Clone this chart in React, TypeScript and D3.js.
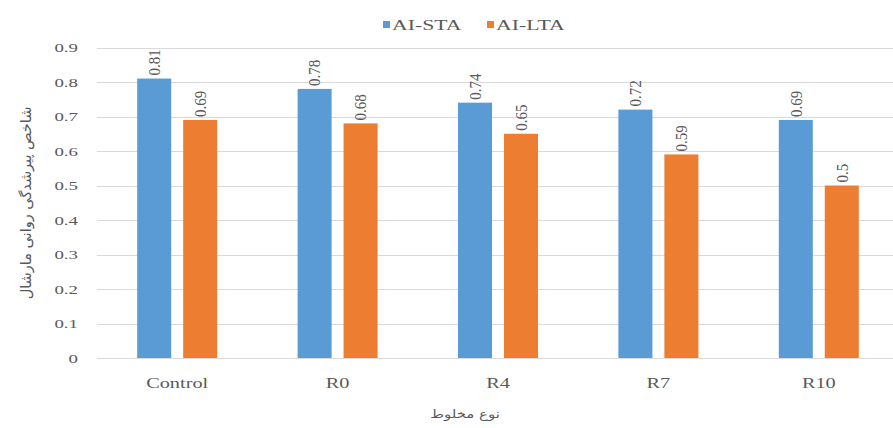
import React from "react";
import * as d3 from "d3";

// Mixture types on the x axis
const categories = ["Control", "R0", "R4", "R7", "R10"];
// Aging index series
const seriesNames = ["AI-STA", "AI-LTA"];
const staValues = [0.81, 0.78, 0.74, 0.72, 0.69];
const ltaValues = [0.69, 0.68, 0.65, 0.59, 0.5];
const seriesColors = ["#5B9BD5", "#ED7D31"];
const yTicks = [0, 0.1, 0.2, 0.3, 0.4, 0.5, 0.6, 0.7, 0.8, 0.9];
const yTitle = "شاخص پیرشدگی روانی مارشال";
const xTitle = "نوع مخلوط";

const W = 893;
const H = 428;
const plot = { left: 97, right: 899, top: 47.5, bottom: 358 };
const SX = 1.45; // horizontal stretch of the lettering
const serif = "'Liberation Serif', 'Times New Roman', serif";

export default function App() {
  const x = d3.scaleBand<string>().domain(categories).range([plot.left, plot.right]);
  const inner = d3.scaleBand<string>().domain(seriesNames).range([-40, 40]).paddingInner(0.26);
  const y = d3.scaleLinear().domain([0, 0.9]).range([plot.bottom, plot.top]);
  const series = [staValues, ltaValues];

  return (
    <svg width={W} height={H} style={{ display: "block", background: "#fff" }}>
      <style>{"body{margin:0}"}</style>
      {/* gridlines */}
      {yTicks.map((t) => (
        <line key={t} x1={plot.left} x2={plot.right} y1={Math.round(y(t)) + 0.5} y2={Math.round(y(t)) + 0.5}
          stroke="#d9d9d9" strokeWidth={1} />
      ))}
      {/* y tick labels */}
      {yTicks.map((t) => (
        <text key={"yl" + t} transform={`translate(78,${y(t) + 4.5}) scale(${SX},1)`} textAnchor="end"
          fontFamily={serif} fontSize={13} fill="#595959">{d3.format("")(t)}</text>
      ))}
      {/* bars and value labels */}
      {series.map((vals, si) => (
        <g key={seriesNames[si]}>
          {vals.map((v, ci) => {
            const cx = x(categories[ci])! + x.bandwidth() / 2 + inner(seriesNames[si])!;
            const bw = inner.bandwidth();
            return (
              <g key={ci}>
                <rect x={cx} y={y(v)} width={bw} height={plot.bottom - y(v)} fill={seriesColors[si]} />
                <text transform={`translate(${cx + bw / 2},${y(v) - 3}) scale(1.1,1) rotate(-90)`}
                  dominantBaseline="central" fontFamily={serif} fontSize={15} fill="#595959">{String(v)}</text>
              </g>
            );
          })}
        </g>
      ))}
      {/* x tick labels */}
      {categories.map((c) => (
        <text key={c} transform={`translate(${x(c)! + x.bandwidth() / 2},388) scale(${SX},1)`} textAnchor="middle"
          fontFamily={serif} fontSize={14} fill="#595959">{c}</text>
      ))}
      {/* axis titles */}
      <text transform={`translate(465,418) scale(1.3,1)`} textAnchor="middle"
        fontFamily="'DejaVu Sans', sans-serif" fontSize={11.5} fill="#595959">{xTitle}</text>
      <text transform={`translate(26,203) rotate(-90)`} textAnchor="middle" dominantBaseline="central"
        fontFamily="'DejaVu Sans', sans-serif" fontSize={14.5} fill="#595959">{yTitle}</text>
      {/* legend */}
      {seriesNames.map((s, i) => {
        const lx = [383, 487][i];
        return (
          <g key={s}>
            <rect x={lx} y={21} width={7} height={7} fill={seriesColors[i]} />
            <text transform={`translate(${lx + 9},30) scale(${SX},1)`} fontFamily={serif} fontSize={15} fill="#595959">{s}</text>
          </g>
        );
      })}
    </svg>
  );
}
